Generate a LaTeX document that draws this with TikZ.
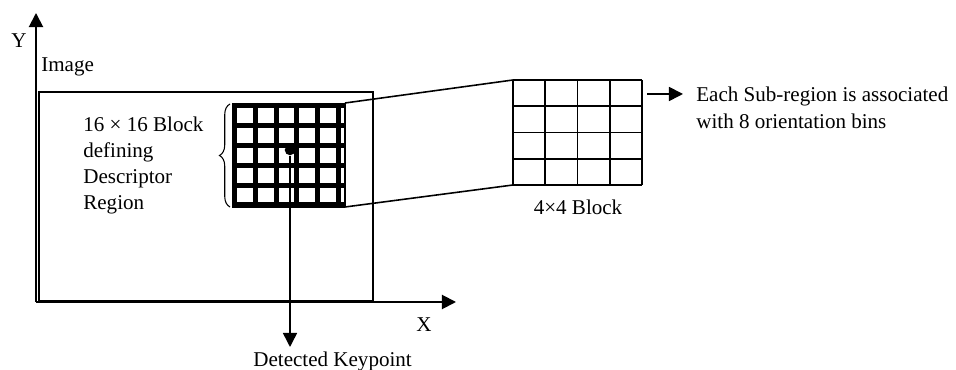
\documentclass[tikz,border=0pt]{standalone}
\usepackage{fontspec}
\setmainfont{Liberation Serif}
\usepackage{tikz}
\usetikzlibrary{arrows.meta,decorations.pathreplacing,positioning}
\tikzset{
	caption/.style={inner sep=0pt, font=\fontsize{12}{15}\selectfont},
	axis/.style={line width=1.1pt, -{Triangle[length=8pt,width=8pt]}},
	pointer/.style={line width=0.9pt, -{Triangle[length=8pt,width=8pt]}},
	frame/.style={line width=0.9pt},
	bar/.style={line width=2.9pt},
	cell/.style={line width=1.1pt},
	keydot/.style={circle, fill, inner sep=0pt, minimum size=6pt}
}

\begin{document}
\begin{tikzpicture}[x=0.57pt, y=-0.57pt]
  \useasboundingbox (0,0) rectangle (956,370);

  \coordinate (origin) at (36,302);
  \coordinate (ytip) at (36,13);
  \coordinate (xtip) at (456,302);
  \coordinate (blockNE) at (345,103);
  \coordinate (blockSE) at (345,207);
  \coordinate (cellsNW) at (513,80);
  \coordinate (cellsSW) at (513,185);
  \coordinate (binsFrom) at (647,94);
  \coordinate (binsTo) at (683,94);
  \coordinate (kpend) at (290,347);

  \node[caption, anchor=base west] (ylabel) at (11,47.5) {Y};
  \node[caption, anchor=base west] (image) at (41,72) {Image};
  \node[caption, anchor=base west] (xlabel) at (416,332) {X};
  \node[caption, anchor=base west, align=left] (region) at (83,210)
    {16 × 16 Block\\defining\\Descriptor\\Region};
  \node[caption, anchor=base] (cellslabel) at (578,215) {4×4 Block};
  \node[caption, anchor=base west, align=left, font=\fontsize{12}{15.6}\selectfont] (bins) at (696,128.5)
    {Each Sub-region is associated\\with 8 orientation bins};
  \node[caption, anchor=base west] (kplabel) at (253,367) {Detected Keypoint};

  \draw[frame] (39,92) rectangle (373,301);
  \draw[axis] (origin) -- (ytip);
  \draw[axis] (origin) -- (xtip);

  % 16 x 16 block
  \foreach \i in {0,...,5} {
    \draw[bar] ({234.5+20.8*\i},103) -- ({234.5+20.8*\i},207);
    \draw[bar] (232,{105.5+19.9*\i}) -- (345,{105.5+19.9*\i});
  }
  \draw[frame] (blockNE) -- (blockSE);
  \draw[line width=0.6pt, decorate, decoration={brace, amplitude=6pt}] (230,207) -- (230,104);
  \node[keydot] (kp) at (290,150) {};

  % 4 x 4 block
  \draw[frame] (blockNE) -- (cellsNW) (blockSE) -- (cellsSW);
  \foreach \i in {0,...,4} {
    \draw[cell] ({513+32.25*\i},80) -- ({513+32.25*\i},185);
    \draw[cell] (513,{80+26.25*\i}) -- (642,{80+26.25*\i});
  }

  \draw[pointer] (kp) -- (kpend);
  \draw[pointer] (binsFrom) -- (binsTo);
\end{tikzpicture}
\end{document}
